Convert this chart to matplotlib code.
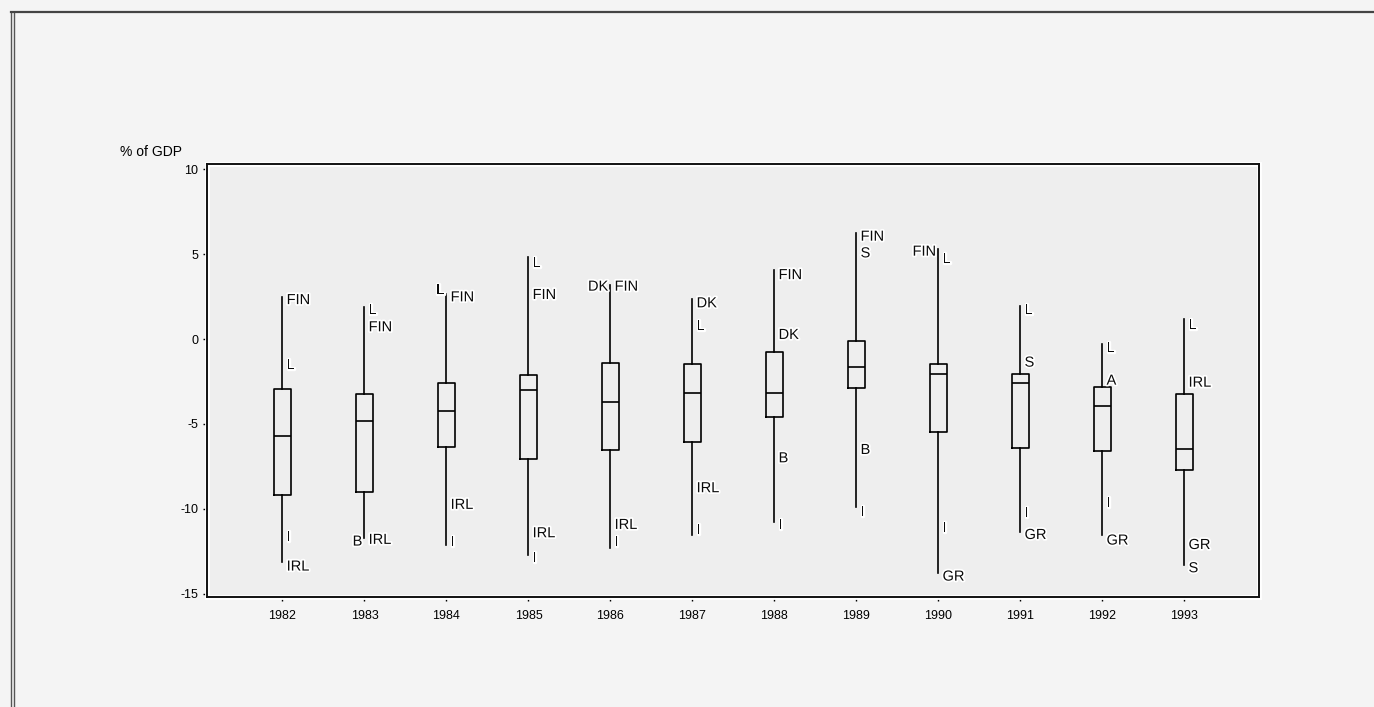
import matplotlib

matplotlib.use("Agg")

import matplotlib.pyplot as plt
import matplotlib.patheffects as pe
from matplotlib.lines import Line2D
from matplotlib.patches import Rectangle

plt.rcParams["font.family"] = ["Liberation Sans", "DejaVu Sans"]
plt.rcParams["axes.unicode_minus"] = False

# general government balance, % of GDP (box = quartiles, whiskers = range)
years = [1982, 1983, 1984, 1985, 1986, 1987, 1988, 1989, 1990, 1991, 1992, 1993]
whisker_high = [2.45, 1.86, 2.65, 4.81, 3.18, 2.35, 4.06, 6.25, 5.28, 1.94, -0.29, 1.18]
box_high = [-2.96, -3.24, -2.61, -2.12, -1.39, -1.47, -0.76, -0.10, -1.47, -2.06, -2.84, -3.24]
medians = [-5.71, -4.80, -4.22, -3.00, -3.69, -3.19, -3.16, -1.66, -2.06, -2.61, -3.94, -6.49]
box_low = [-9.18, -8.98, -6.37, -7.08, -6.53, -6.04, -4.61, -2.90, -5.45, -6.39, -6.59, -7.71]
whisker_low = [-13.10, -11.72, -12.12, -12.71, -12.31, -11.53, -10.75, -9.86, -13.78, -11.34, -11.53, -13.29]

# country tags: (name, value, side)
country_labels = [
    [("FIN", 2.29, "r"), ("L", -1.53, "r"), ("I", -11.63, "r"), ("IRL", -13.39, "r")],
    [("L", 1.70, "r"), ("FIN", 0.69, "r"), ("B", -11.92, "l"), ("IRL", -11.82, "r")],
    [("L", 2.88, "l"), ("FIN", 2.45, "r"), ("IRL", -9.76, "r"), ("I", -11.92, "r")],
    [("L", 4.45, "r"), ("FIN", 2.59, "r"), ("IRL", -11.43, "r"), ("I", -12.90, "r")],
    [("DK", 3.08, "l"), ("FIN", 3.08, "r"), ("IRL", -10.94, "r"), ("I", -11.92, "r")],
    [("DK", 2.10, "r"), ("L", 0.76, "r"), ("IRL", -8.78, "r"), ("I", -11.24, "r")],
    [("FIN", 3.76, "r"), ("DK", 0.24, "r"), ("B", -7.02, "r"), ("I", -10.94, "r")],
    [("FIN", 6.02, "r"), ("S", 5.04, "r"), ("B", -6.53, "r"), ("I", -10.16, "r")],
    [("FIN", 5.14, "l"), ("L", 4.69, "r"), ("I", -11.14, "r"), ("GR", -13.98, "r")],
    [("L", 1.71, "r"), ("S", -1.39, "r"), ("I", -10.25, "r"), ("GR", -11.53, "r")],
    [("L", -0.55, "r"), ("A", -2.45, "r"), ("I", -9.66, "r"), ("GR", -11.86, "r")],
    [("L", 0.82, "r"), ("IRL", -2.57, "r"), ("GR", -12.12, "r"), ("S", -13.49, "r")],
]
y_ticks = [10, 5, 0, -5, -10, -15]


def main() -> None:
    fig = plt.figure(figsize=(13.74, 7.07), dpi=100, facecolor="#f4f4f4")
    ax = fig.add_axes([0.1507, 0.1556, 0.7656, 0.612])
    ax.set_facecolor("#eeeeee")

    stats = []
    for i in range(len(years)):
        stats.append({
            "med": medians[i], "q1": box_low[i], "q3": box_high[i],
            "whislo": whisker_low[i], "whishi": whisker_high[i], "fliers": [],
        })
    line_kw = dict(color="black", linewidth=1.2)
    ax.bxp(stats, positions=range(len(years)), widths=0.21, showcaps=False,
           showfliers=False, boxprops=line_kw, whiskerprops=line_kw,
           medianprops=line_kw)

    halo = [pe.withStroke(linewidth=2.5, foreground="white")]
    for i, tags in enumerate(country_labels):
        for name, value, side in tags:
            dx = 3.0 if side == "r" else -1.5
            ax.annotate(name, xy=(i, value), xytext=(dx, 0), textcoords="offset points",
                        ha="left" if side == "r" else "right", va="center",
                        fontsize=10.5, color="#0a0a0a", path_effects=halo)

    ax.set_xlim(-0.92, len(years) - 1 + 0.91)
    ax.set_ylim(-15.18, 10.28)
    ax.set_xticks(range(len(years)))
    ax.set_xticklabels([str(y) for y in years], fontsize=9)
    ax.set_yticks(y_ticks)
    ax.set_yticklabels([str(t) for t in y_ticks], fontsize=9)
    ax.tick_params(axis="x", length=3, width=1, pad=6.5)
    ax.tick_params(axis="y", length=3, width=1, pad=3.5)
    for spine in ax.spines.values():
        spine.set_linewidth(1.4)
        spine.set_color("#111111")
        spine.set_zorder(5)

    # white inner rim of the plot frame
    ax.add_patch(Rectangle((0, 0), 1, 1, transform=ax.transAxes, fill=False,
                           edgecolor="white", linewidth=3.5, zorder=4, clip_on=False))

    fig.text(0.087, 0.785, "% of GDP", fontsize=10, va="center", ha="left")

    # page border of the scanned document
    for x in (0.0080, 0.0102):
        fig.add_artist(Line2D([x, x], [0.0, 0.983], transform=fig.transFigure,
                              color="#555555", linewidth=1.0))
    fig.add_artist(Line2D([0.008, 1.0], [0.983, 0.983], transform=fig.transFigure,
                          color="#444444", linewidth=1.6))

    fig.savefig("out.png", dpi=100, facecolor=fig.get_facecolor())
    plt.close(fig)


if __name__ == "__main__":
    main()
